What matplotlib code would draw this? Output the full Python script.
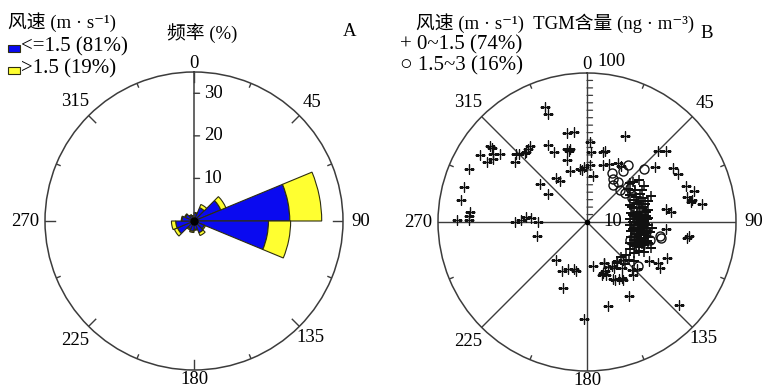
import numpy as np
import matplotlib as mpl
mpl.use("Agg")
from matplotlib import pyplot as plt
from matplotlib.patches import Rectangle

plt.rcParams['font.family'] = ['Liberation Serif', 'Noto Sans CJK SC', 'DejaVu Serif']

W, H = 765, 390

## Panel A: wind rose (frequency %), 16 sectors of 22.5 deg
sector_start = np.arange(0, 360, 22.5)
freq_low = [1.8, 3.4, 6.8, 22.5, 17.5, 2.6, 3.0, 2.0, 2.4, 2.0, 4.2, 4.3, 2.8, 2.2, 1.5, 1.2]   # <=1.5 m/s
freq_high = [0.2, 0.8, 1.3, 7.5, 5.2, 0.3, 0.7, 0.2, 0.3, 0.3, 0.8, 1.0, 0.2, 0.2, 0.1, 0.1]  # >1.5 m/s
rose_rticks = [10, 20, 30]

## Panel B: TGM (ng m-3) vs wind direction
# wind 0~1.5 m/s, scattered points
dir_low = [340, 340, 347, 352, 2, 345, 347, 346, 3, 333, 335, 323, 321, 319, 318, 315, 314, 310,
           308, 308, 306, 308, 302, 301, 304, 294, 286, 280, 275, 273, 271, 271, 342, 342, 353, 355,
           357, 3, 7, 13, 16, 21, 28, 325, 327, 309, 306, 270, 272, 275, 274, 270, 254, 219, 207,
           202, 195, 193, 200, 182, 172, 158, 163, 151, 160, 160, 150, 166, 132, 114, 99, 122, 120,
           122, 79, 81, 83, 81, 24, 14, 31, 45, 48, 51, 58, 62, 70, 74, 76, 78, 95, 98, 154, 148,
           157, 155, 150, 143, 136, 164, 155, 151, 148, 143, 139, 137, 133]
tgm_low = [82, 77, 61, 61, 54, 51, 50, 49, 47, 58, 52, 64, 63, 62, 62, 65, 66, 63,
           83, 81, 78, 74, 85, 78, 76, 87, 86, 86, 79, 79, 87, 79, 44, 36, 36, 35,
           37, 38, 31, 48, 40, 42, 45, 36, 33, 41, 32, 48, 44, 41, 38, 33, 35, 33, 37,
           34, 33, 34, 47, 65, 30, 30, 36, 34, 35, 38, 57, 58, 83, 59, 68, 49, 55,
           58, 71, 78, 57, 54, 63, 49, 44, 67, 71, 59, 68, 69, 71, 75, 69, 72, 53, 69, 43, 44,
           30, 33, 36, 33, 35, 37, 42, 44, 46, 39, 47, 44, 46]
# wind 0~1.5 m/s, dense cluster east of the site
dir_core = [48, 58, 68, 78, 86, 94, 102, 109, 116, 122,
            56, 65, 74, 83, 90, 97, 104, 111, 117, 123,
            51, 62, 71, 79, 85, 92, 98, 104, 110, 116,
            58, 67, 75, 83, 89, 95, 100, 106, 112, 118,
            71, 79, 86, 93, 98, 104, 109,
            72, 81, 90, 99, 108, 116,
            69, 80, 87, 93, 100, 107, 113,
            69, 76, 84, 90, 95, 101, 107, 112,
            73, 80, 87, 96, 101, 108,
            51, 49, 60, 68, 95, 112,
            130, 132, 136, 130, 138, 144,
            63, 75, 88, 92, 97, 103, 110, 119, 84, 99]
tgm_core = [39, 34, 31, 30, 29, 29, 30, 31, 32, 34,
            39, 35, 33, 32, 32, 32, 33, 34, 36, 38,
            45, 40, 37, 36, 35, 35, 35, 36, 37, 39,
            45, 41, 39, 38, 38, 38, 39, 40, 41, 43,
            43, 42, 41, 41, 41, 42, 43,
            32, 31, 31, 31, 32, 34,
            36, 34, 34, 34, 34, 35, 36,
            39, 38, 37, 37, 37, 37, 38, 40,
            41, 40, 40, 40, 40, 42,
            35, 41, 43, 46, 44, 46,
            34, 38, 33, 41, 38, 34,
            37, 36, 36, 39, 36, 39, 39, 40, 40, 43]
# wind 1.5~3 m/s
dir_high = [36, 35, 27, 31, 35, 47, 38, 53, 131, 101, 102, 62, 77, 94, 100, 115, 113, 106, 52, 46]
tgm_high = [47, 42, 37, 34, 30, 52, 34, 32, 45, 50, 51, 34, 37, 32, 40, 39, 31, 44, 37, 31]
tgm_rticks = np.arange(5, 100, 5)

dir_labels = ["0", "45", "90", "135", "180", "225", "270", "315"]
label_rad = [1.06, 1.12, 1.12, 1.11, 1.067, 1.13, 1.13, 1.13]

edge = "#2e2e10"
line_col = "#3c3c3c"


def setup_polar(ax, rmax):
    ax.set_theta_zero_location("N")
    ax.set_theta_direction(-1)
    ax.set_ylim(0, rmax)
    ax.grid(False)
    ax.set_xticks([])
    ax.set_yticks([])
    ax.spines["polar"].set_color(line_col)
    ax.spines["polar"].set_linewidth(1.1)
    ax.patch.set_alpha(0)


def ang_labels(ax):
    for i, lab in enumerate(dir_labels):
        a = np.deg2rad(45 * i)
        rad = label_rad[i]
        ax.text(0.5 + 0.5 * rad * np.sin(a), 0.5 + 0.5 * rad * np.cos(a), lab,
                transform=ax.transAxes, ha="center", va="center", fontsize=13.5)


fig = plt.figure(figsize=(W / 100, H / 100), dpi=100)

## ---------------- A ----------------
rA = 35.0
axA = fig.add_axes([45 / W, 20 / H, 298 / W, 298 / H], projection="polar")
setup_polar(axA, rA)
pxA = rA / 149.0
th = np.deg2rad(sector_start + 11.25)
wd = np.deg2rad(22.5)
axA.bar(th, freq_low, width=wd, bottom=0, color="#0a0af0", edgecolor=edge, linewidth=0.8, zorder=2)
axA.bar(th, freq_high, width=wd, bottom=freq_low, color="#ffff30", edgecolor=edge, linewidth=0.8, zorder=2)
axA.plot([0, 0], [0, rA], color=line_col, lw=1.1, zorder=3)
axA.plot([0], [0], "o", color="k", ms=5, zorder=4)
for k, a in enumerate(sector_start):
    ln = 10 if k % 2 == 0 else 4
    axA.plot([np.deg2rad(a)] * 2, [rA - ln * pxA, rA], color=line_col, lw=1.0, zorder=3)
for r in rose_rticks:
    axA.annotate("", xy=(0, r), xytext=(4, 0), textcoords="offset points",
                 arrowprops=dict(arrowstyle="-", color=line_col, lw=1.0, shrinkA=0, shrinkB=0))
    axA.annotate(str(r), xy=(0, r), xytext=(7, 0), textcoords="offset points",
                 ha="left", va="center", fontsize=13.5)
ang_labels(axA)

## ---------------- B ----------------
rB = 100.0
axB = fig.add_axes([438 / W, 19 / H, 298 / W, 298 / H], projection="polar")
setup_polar(axB, rB)
pxB = rB / 149.0
for a in range(0, 360, 45):
    axB.plot([np.deg2rad(a)] * 2, [0, rB], color=line_col, lw=1.0, zorder=1)
for a in np.arange(22.5, 360, 45):
    axB.plot([np.deg2rad(a)] * 2, [rB - 4 * pxB, rB], color=line_col, lw=1.0, zorder=1)
for r in tgm_rticks:
    axB.annotate("", xy=(0, r), xytext=(4, 0), textcoords="offset points",
                 arrowprops=dict(arrowstyle="-", color=line_col, lw=0.9, shrinkA=0, shrinkB=0))
axB.plot(np.deg2rad(dir_low), tgm_low, "+", color="#111111", ms=7, mew=1.0, zorder=3)
axB.plot(np.deg2rad(dir_core), tgm_core, "+", color="#111111", ms=7, mew=1.1, zorder=3)
axB.plot(np.deg2rad(dir_high), tgm_high, "o", mfc="none", mec="#111111", ms=6.5, mew=1.0, zorder=4)
axB.plot([0], [0], "o", color="k", ms=3, zorder=4)
axB.annotate("10", xy=(np.deg2rad(90), 10), xytext=(1, 0), textcoords="offset points",
             ha="left", va="center", fontsize=13.5, zorder=5)
ang_labels(axB)
axB.text(0.534, 1.037, "100", transform=axB.transAxes, ha="left", va="center", fontsize=13.5)


## ---------------- header texts ----------------
def ftxt(x, y, s, **kw):
    kw.setdefault("fontsize", 14)
    kw.setdefault("va", "center")
    fig.text(x / W, 1 - y / H, s, **kw)


ftxt(8, 22, "风速 (m · s⁻¹)", fontsize=13.5)
fig.patches.append(Rectangle((8 / W, 1 - 52 / H), 12 / W, 7 / H, transform=fig.transFigure,
                             facecolor="#0a0af0", edgecolor=edge, lw=0.8))
fig.patches.append(Rectangle((8 / W, 1 - 74 / H), 12 / W, 7 / H, transform=fig.transFigure,
                             facecolor="#ffff30", edgecolor=edge, lw=0.8))
ftxt(21, 47, "<=1.5 (81%)", fontsize=15)
ftxt(21, 69, ">1.5 (19%)", fontsize=15)
ftxt(167, 33, "频率 (%)", fontsize=13.5)
ftxt(343, 31, "A", fontsize=13.5)

ftxt(416, 23, "风速 (m · s⁻¹)  TGM含量 (ng · m⁻³)", fontsize=13.5)
ftxt(700, 34, "B", fontsize=13.5)
ftxt(400, 45, "+ 0~1.5 (74%)", fontsize=15)
ftxt(400, 66, "○ 1.5~3 (16%)", fontsize=15)

fig.savefig("out.png", dpi=100)
